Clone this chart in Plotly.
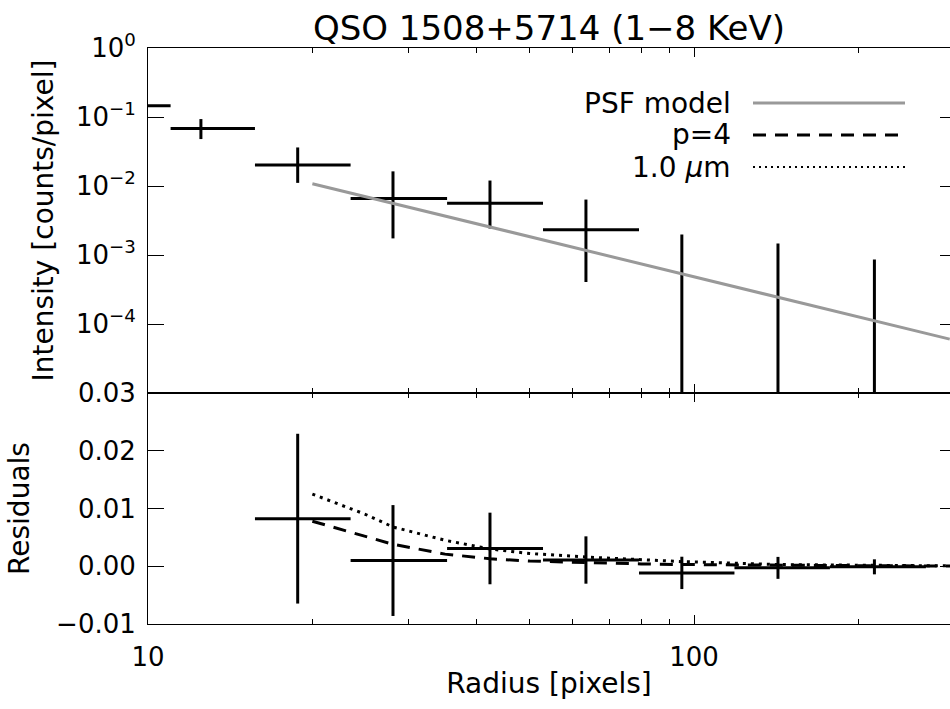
import numpy as np
import plotly.graph_objects as go

# ---------------- data ----------------
radius = [8.8, 12.5, 18.8, 28.1, 42.3, 63.4, 95.0, 142.5, 214.0]
r_lo = [7.33, 11.0, 15.7, 23.5, 35.3, 52.9, 79.3, 118.6, 177.4]
r_hi = [11.0, 15.7, 23.5, 35.3, 52.9, 79.3, 118.6, 177.4, 265.9]

intensity = [0.145, 0.0682, 0.0202, 0.00658, 0.00562, 0.00232, -0.0006, -0.00005, -0.00001]
int_hi = [0.16, 0.0933, 0.0362, 0.0163, 0.0120, 0.00636, 0.00199, 0.00147, 0.000863]
int_lo = [0.13, 0.0479, 0.0111, 0.00174, 0.00242, 0.000406, -0.0033, -0.0016, -0.0009]

resid = [None, None, 0.00824, 0.00099, 0.00308, 0.00108, -0.00115, -0.00028, -0.0001]
resid_err = [None, None, 0.0147, 0.0096, 0.0062, 0.0041, 0.0028, 0.0019, 0.0013]

psf_r = [20, 50, 100, 200, 294]
psf_i = [0.0108, 0.00185, 0.000487, 0.000128, 0.0000603]

model_r = [20, 25, 28.1, 35, 42.3, 50, 63.4, 80, 95, 142, 214, 295]
model_p4 = [0.0078, 0.0052, 0.0038, 0.0021, 0.0013, 0.0009, 0.0006, 0.0004, 0.0003, 0.00015, 0.00008, 0.00005]
model_1um = [0.0125, 0.0090, 0.0068, 0.0045, 0.0030, 0.0022, 0.0016, 0.0011, 0.0008, 0.0003, 0.00012, 0.00006]

legend_names = ["PSF model", "p=4", "1.0 <i>μ</i>m"]
title_text = "QSO 1508+5714 (1−8 KeV)"

FONT = "DejaVu Sans"
FLOOR = 1e-7  # values <= 0 cannot be shown on the log axis; push them below the range


def cross_segments(xc, xl, xh, yc, yl, yh, floor=None):
    xs, ys = [], []
    for a, lo, hi, b, blo, bhi in zip(xc, xl, xh, yc, yl, yh):
        if b is None:
            continue
        if floor is not None:
            b = max(b, floor)
            blo = max(blo, floor)
            bhi = max(bhi, floor)
        xs += [lo, hi, None, a, a, None]
        ys += [b, b, None, blo, bhi, None]
    return xs, ys


fig = go.Figure()

# top panel: data crosses
tx, ty = cross_segments(radius, r_lo, r_hi, intensity, int_lo, int_hi, floor=FLOOR)
fig.add_trace(go.Scatter(x=tx, y=ty, mode="lines", line=dict(color="black", width=3),
                         xaxis="x", yaxis="y", showlegend=False, hoverinfo="skip"))
# PSF model
fig.add_trace(go.Scatter(x=psf_r, y=psf_i, mode="lines", line=dict(color="#999999", width=3),
                         xaxis="x", yaxis="y", showlegend=False))

# bottom panel: residual crosses
errs = [0 if e is None else e for e in resid_err]
res_lo = [None if v is None else v - e for v, e in zip(resid, errs)]
res_hi = [None if v is None else v + e for v, e in zip(resid, errs)]
bx, by = cross_segments(radius, r_lo, r_hi, resid, res_lo, res_hi)
fig.add_trace(go.Scatter(x=bx, y=by, mode="lines", line=dict(color="black", width=3),
                         xaxis="x2", yaxis="y2", showlegend=False, hoverinfo="skip"))
fig.add_trace(go.Scatter(x=model_r, y=model_p4, mode="lines",
                         line=dict(color="black", width=3, dash="13px,9px"),
                         xaxis="x2", yaxis="y2", showlegend=False))
fig.add_trace(go.Scatter(x=model_r, y=model_1um, mode="lines",
                         line=dict(color="black", width=3, dash="3px,5px"),
                         xaxis="x2", yaxis="y2", showlegend=False))
# dummy traces for right-side tick axes
fig.add_trace(go.Scatter(x=[None], y=[None], xaxis="x", yaxis="y3", showlegend=False))
fig.add_trace(go.Scatter(x=[None], y=[None], xaxis="x2", yaxis="y4", showlegend=False))

xmax = 1 + 802 / 546
split = 231 / 576

xcommon = dict(type="log", range=[1, xmax], tickvals=[10, 100], ticks="inside", ticklen=9,
               tickcolor="black", showline=True, linecolor="black", linewidth=1,
               mirror="ticks", showgrid=False, zeroline=False,
               minor=dict(tickvals=[20, 30, 40, 50, 60, 70, 80, 90, 200, 300], ticks="inside",
                          ticklen=5, tickcolor="black", showgrid=False),
               tickfont=dict(family=FONT, size=26, color="black"))

ticktext_top = ["10<sup>0</sup>", "10<sup>−1</sup>", "10<sup>−2</sup>", "10<sup>−3</sup>", "10<sup>−4</sup>"]

fig.update_layout(
    width=950, height=709,
    margin=dict(l=148, r=0, t=48, b=85),
    paper_bgcolor="white", plot_bgcolor="white",
    font=dict(family=FONT, color="black"),
    title=dict(text=title_text, x=0.5, xref="paper", xanchor="center",
               y=1 - 28 / 709, yref="container", yanchor="middle",
               font=dict(family=FONT, size=34, color="black")),
    xaxis=dict(xcommon, domain=[0, 1], anchor="y", showticklabels=False, matches="x2"),
    xaxis2=dict(xcommon, domain=[0, 1], anchor="y2", showticklabels=True, ticklabelstandoff=10,
                title=dict(text="Radius [pixels]", font=dict(family=FONT, size=28, color="black"),
                           standoff=2)),
    yaxis=dict(type="log", domain=[split, 1], range=[-5, 0], anchor="x",
               tickvals=[1, 0.1, 0.01, 0.001, 0.0001], ticktext=ticktext_top,
               ticks="inside", ticklen=16, tickcolor="black", showline=True, linecolor="black",
               linewidth=1, showgrid=False, zeroline=False, ticklabelstandoff=6,
               tickfont=dict(family=FONT, size=26, color="black"),
               title=dict(text="Intensity [counts/pixel]", standoff=14,
                          font=dict(family=FONT, size=28, color="black"))),
    yaxis2=dict(domain=[0, split], range=[-0.01, 0.03], anchor="x2",
                tickvals=[-0.01, 0, 0.01, 0.02, 0.03],
                ticktext=["−0.01", "0.00", "0.01", "0.02", "0.03"],
                ticks="inside", ticklen=16, tickcolor="black", showline=True, linecolor="black",
                linewidth=1, showgrid=False, zeroline=False, ticklabelstandoff=6,
                tickfont=dict(family=FONT, size=26, color="black"),
                title=dict(text="Residuals", standoff=18,
                           font=dict(family=FONT, size=28, color="black"))),
    yaxis3=dict(type="log", range=[-5, 0], overlaying="y", side="right", anchor="x",
                tickvals=[1, 0.1, 0.01, 0.001, 0.0001], ticks="inside", ticklen=10,
                tickcolor="black", showline=False, showticklabels=False, showgrid=False,
                zeroline=False),
    yaxis4=dict(range=[-0.01, 0.03], overlaying="y2", side="right", anchor="x2",
                tickvals=[-0.01, 0, 0.01, 0.02, 0.03], ticks="inside", ticklen=10,
                tickcolor="black", showline=False, showticklabels=False, showgrid=False,
                zeroline=False),
)

# custom legend (text on the left, line sample on the right)
leg_styles = [dict(color="#999999", width=3), dict(color="black", width=3, dash="13px,9px"),
              dict(color="black", width=2, dash="2px,4px")]
leg_y_px = [103, 135, 167]
for name, style, ypx in zip(legend_names, leg_styles, leg_y_px):
    yp = (624 - ypx) / 576
    fig.add_annotation(text=name, xref="paper", yref="paper", x=(733 - 148) / 802, y=yp,
                       xanchor="right", yanchor="middle", showarrow=False,
                       font=dict(family=FONT, size=28, color="black"))
    fig.add_shape(type="line", xref="paper", yref="paper", x0=(753 - 148) / 802,
                  x1=(905 - 148) / 802, y0=yp, y1=yp, line=style)

fig.write_html("out.html")
